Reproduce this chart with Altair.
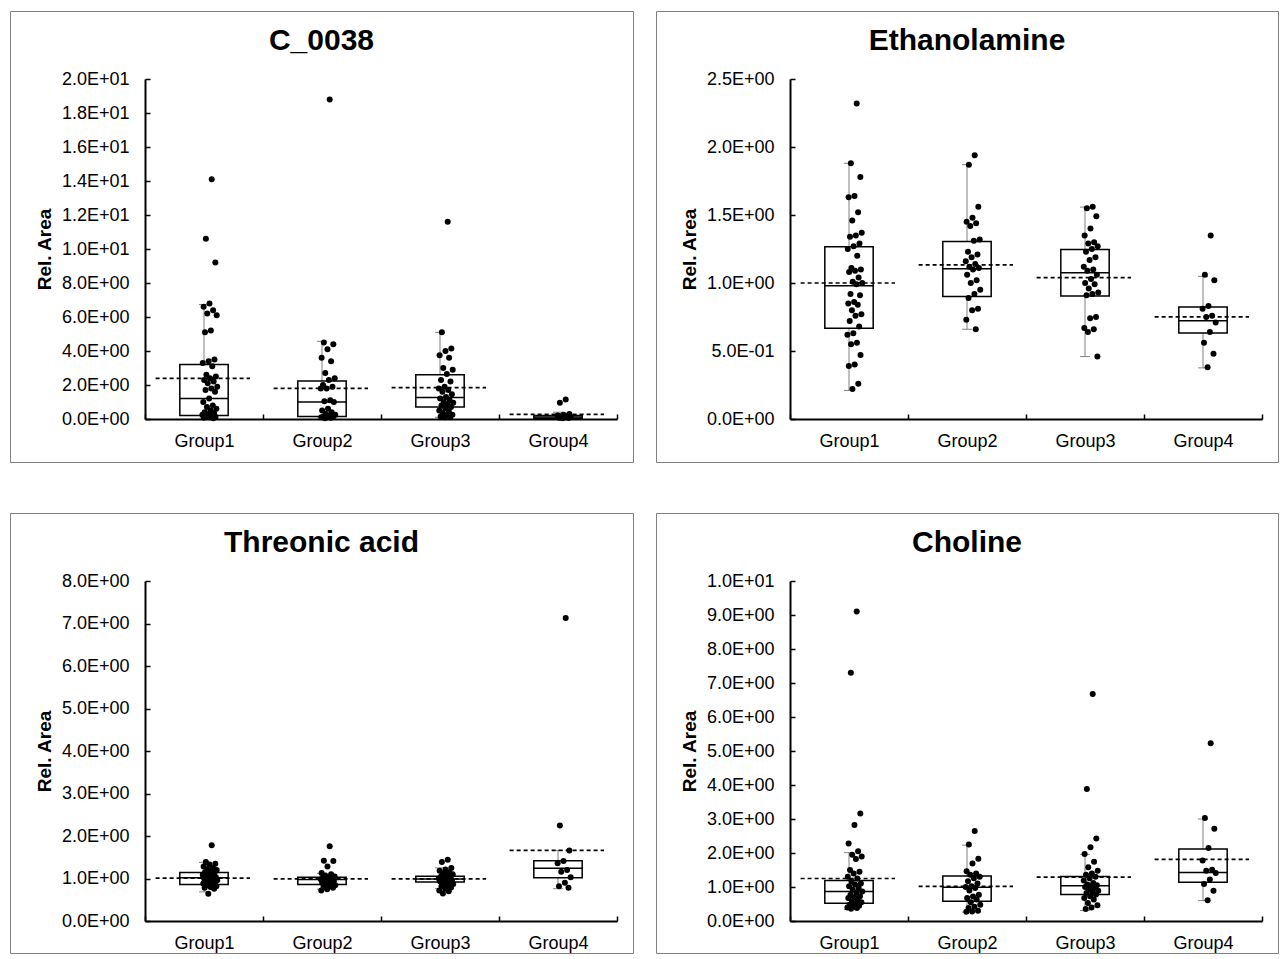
import altair as alt
import pandas as pd

GROUPS = ["Group1", "Group2", "Group3", "Group4"]

# ---------------- C_0038 ----------------
C0038_G1 = [14.1, 10.6, 9.2, 6.8, 6.6, 6.4, 6.2, 6.1, 5.2, 5.1, 3.5, 3.4, 3.3, 3.1, 2.6, 2.5, 2.4, 2.3,
            2.2, 2.1, 1.9, 1.8, 1.7, 1.6, 1.2, 1.0, 0.8, 0.7, 0.6, 0.5, 0.4, 0.35, 0.3, 0.25, 0.2, 0.15,
            0.12, 0.1, 0.08, 0.05]
C0038_G2 = [18.8, 4.5, 4.4, 4.1, 3.6, 3.4, 2.7, 2.4, 2.3, 2.0, 1.9, 1.8, 1.8, 1.1, 1.05, 1.0, 0.6, 0.5,
            0.4, 0.3, 0.25, 0.2, 0.15, 0.12, 0.1, 0.1, 0.08, 0.05]
C0038_G3 = [11.6, 5.1, 4.15, 4.0, 3.75, 3.6, 3.0, 2.9, 2.65, 2.3, 2.2, 1.9, 1.8, 1.7, 1.6, 1.45, 1.3, 1.2,
            1.1, 1.0, 0.95, 0.85, 0.8, 0.7, 0.65, 0.5, 0.45, 0.35, 0.25, 0.2, 0.15, 0.1, 0.1]
C0038_G4 = [1.15, 0.95, 0.3, 0.25, 0.2, 0.18, 0.15, 0.12, 0.1, 0.08, 0.06, 0.05]
C0038_Q1 = [0.2, 0.14, 0.7, 0.05]
C0038_MED = [1.2, 1.0, 1.27, 0.12]
C0038_Q3 = [3.2, 2.24, 2.6, 0.2]
C0038_LO = [0.05, 0.05, 0.1, 0.05]
C0038_HI = [6.73, 4.57, 5.1, 0.4]
C0038_MEAN = [2.39, 1.8, 1.84, 0.27]
C0038_TICKS = [0, 2, 4, 6, 8, 10, 12, 14, 16, 18, 20]

# ---------------- Ethanolamine ----------------
ETH_G1 = [2.32, 1.88, 1.78, 1.64, 1.63, 1.52, 1.46, 1.37, 1.35, 1.34, 1.29, 1.27, 1.25, 1.2, 1.11, 1.10,
          1.09, 1.08, 1.04, 1.01, 1.0, 0.99, 0.92, 0.91, 0.86, 0.85, 0.84, 0.80, 0.77, 0.76, 0.72, 0.68,
          0.63, 0.62, 0.56, 0.55, 0.47, 0.40, 0.39, 0.26, 0.22]
ETH_G2 = [1.94, 1.87, 1.56, 1.48, 1.45, 1.44, 1.42, 1.32, 1.31, 1.23, 1.21, 1.19, 1.16, 1.14, 1.12, 1.11,
          1.10, 1.06, 1.02, 1.0, 0.95, 0.92, 0.89, 0.81, 0.80, 0.73, 0.66]
ETH_G3 = [1.56, 1.55, 1.49, 1.40, 1.35, 1.30, 1.29, 1.27, 1.25, 1.23, 1.19, 1.17, 1.12, 1.10, 1.09, 1.06,
          1.03, 1.0, 0.99, 0.96, 0.93, 0.92, 0.91, 0.75, 0.74, 0.67, 0.66, 0.64, 0.46]
ETH_G4 = [1.35, 1.06, 1.02, 0.83, 0.81, 0.76, 0.75, 0.71, 0.64, 0.56, 0.48, 0.38]
ETH_Q1 = [0.668, 0.90, 0.905, 0.632]
ETH_MED = [0.98, 1.105, 1.076, 0.722]
ETH_Q3 = [1.266, 1.305, 1.246, 0.824]
ETH_LO = [0.21, 0.66, 0.459, 0.376]
ETH_HI = [1.88, 1.87, 1.558, 1.049]
ETH_MEAN = [1.0, 1.134, 1.039, 0.751]
ETH_TICKS = [0, 0.5, 1.0, 1.5, 2.0, 2.5]

# ---------------- Threonic acid ----------------
THR_G1 = [1.78, 1.39, 1.35, 1.33, 1.28, 1.25, 1.22, 1.2, 1.18, 1.15, 1.13, 1.1, 1.08, 1.06, 1.05, 1.03,
          1.02, 1.0, 0.99, 0.98, 0.96, 0.95, 0.93, 0.92, 0.9, 0.88, 0.86, 0.84, 0.82, 0.8, 0.78, 0.76, 0.64]
THR_G2 = [1.76, 1.42, 1.41, 1.28, 1.13, 1.1, 1.07, 1.05, 1.03, 1.02, 1.0, 0.99, 0.98, 0.97, 0.96, 0.94,
          0.92, 0.9, 0.88, 0.86, 0.84, 0.82, 0.8, 0.78, 0.75, 0.72]
THR_G3 = [1.44, 1.39, 1.25, 1.21, 1.18, 1.15, 1.12, 1.1, 1.07, 1.05, 1.03, 1.02, 1.0, 0.99, 0.98, 0.96,
          0.95, 0.93, 0.91, 0.89, 0.87, 0.85, 0.82, 0.79, 0.76, 0.72, 0.7, 0.65]
THR_G4 = [7.13, 2.25, 1.66, 1.41, 1.36, 1.2, 1.16, 1.03, 0.9, 0.82, 0.78]
THR_Q1 = [0.86, 0.86, 0.92, 1.016]
THR_MED = [1.016, 0.976, 0.99, 1.24]
THR_Q3 = [1.14, 1.03, 1.055, 1.42]
THR_LO = [0.685, 0.75, 0.76, 0.76]
THR_HI = [1.38, 1.12, 1.25, 1.66]
THR_MEAN = [1.01, 0.99, 0.99, 1.66]
THR_TICKS = [0, 1, 2, 3, 4, 5, 6, 7, 8]

# ---------------- Choline ----------------
CHO_G1 = [9.1, 7.3, 3.16, 2.82, 2.28, 2.05, 1.95, 1.9, 1.82, 1.5, 1.45, 1.4, 1.3, 1.25, 1.17, 1.1, 1.07,
          1.02, 0.97, 0.92, 0.87, 0.83, 0.77, 0.73, 0.7, 0.68, 0.62, 0.58, 0.55, 0.5, 0.48, 0.45, 0.42,
          0.4, 0.38, 0.36]
CHO_G2 = [2.65, 2.25, 1.83, 1.69, 1.46, 1.4, 1.36, 1.3, 1.26, 1.17, 1.1, 1.02, 1.0, 0.97, 0.9, 0.77,
          0.72, 0.68, 0.63, 0.55, 0.48, 0.42, 0.38, 0.3, 0.28, 0.27]
CHO_G3 = [6.68, 3.88, 2.43, 2.17, 1.97, 1.74, 1.58, 1.48, 1.4, 1.36, 1.3, 1.26, 1.19, 1.12, 1.07, 1.05,
          1.02, 1.0, 0.97, 0.93, 0.89, 0.85, 0.82, 0.78, 0.73, 0.68, 0.63, 0.53, 0.46, 0.4, 0.35]
CHO_G4 = [5.23, 3.03, 2.71, 2.15, 1.78, 1.51, 1.48, 1.41, 1.22, 1.09, 0.89, 0.61]
CHO_Q1 = [0.52, 0.58, 0.78, 1.14]
CHO_MED = [0.87, 0.99, 1.04, 1.43]
CHO_Q3 = [1.19, 1.32, 1.31, 2.12]
CHO_LO = [0.34, 0.26, 0.31, 0.6]
CHO_HI = [2.01, 2.23, 1.96, 3.0]
CHO_MEAN = [1.25, 1.02, 1.29, 1.81]
CHO_TICKS = [0, 1, 2, 3, 4, 5, 6, 7, 8, 9, 10]

FONT = "Liberation Sans"
Y_TOP, Y_BOT = 68, 408

E = "floor(log(abs(datum.value)) / LN10 + 1e-9)"
SCI = (f"datum.value == 0 ? '0.0E+00' : format(datum.value / pow(10, {E}), '.1f') + 'E' + "
       f"({E} < 0 ? '-' : '+') + (abs({E}) < 10 ? '0' : '') + abs({E})")
GROUP_EXPR = "[" + ",".join(f"'{g}'" for g in GROUPS) + "][floor(datum.value)]"


def panel(title, pts, q1, med, q3, lo, hi, mean, ticks, width, height, x0):
    rows = []
    for gi, vals in enumerate(pts):
        for v in vals:
            rows.append({"group": GROUPS[gi], "gi": gi, "value": v})
    pdf = pd.DataFrame(rows)
    sdf = pd.DataFrame({"group": GROUPS, "gi": list(range(len(GROUPS))), "q1": q1, "med": med,
                        "q3": q3, "lo": lo, "hi": hi, "mean": mean})

    xs = alt.Scale(domain=[0, 4], range=[x0, x0 + 472], nice=False, zero=False)
    ys = alt.Scale(domain=[0, ticks[-1]], range=[Y_BOT, Y_TOP], nice=False, zero=False)

    x_main = alt.Axis(orient="bottom", offset=Y_BOT - height, values=[0.5, 1.5, 2.5, 3.5],
                      labelExpr=GROUP_EXPR, ticks=False, tickSize=0, domain=True, domainColor="black",
                      domainWidth=2, grid=False, labelFont=FONT, labelFontSize=18, labelColor="black",
                      labelPadding=13, labelFlush=False, labelOverlap=False, title=None)
    x_ticks = alt.Axis(orient="top", offset=-Y_BOT, values=[0, 1, 2, 3, 4], labels=False, ticks=True,
                       tickSize=5, tickColor="black", tickWidth=1.5, domain=False, grid=False, title=None)
    y_main = alt.Axis(orient="left", offset=-x0, values=ticks, labelExpr=SCI, ticks=False, tickSize=0,
                      domain=True, domainColor="black", domainWidth=2, grid=False, labelFont=FONT,
                      labelFontSize=18, labelColor="black", labelPadding=16, labelFlush=False,
                      labelOverlap=False, title="Rel. Area", titleFont=FONT, titleFontSize=19,
                      titleFontWeight="bold", titleColor="black", titlePadding=7)
    y_ticks = alt.Axis(orient="right", offset=x0 - width, values=ticks, labels=False, ticks=True,
                       tickSize=5, tickColor="black", tickWidth=1.5, domain=False, grid=False, title=None)

    stats = alt.Chart(sdf).transform_calculate(
        xc="datum.gi + 0.5", xl="datum.gi + 0.295", xr="datum.gi + 0.705",
        ml="datum.gi + 0.09", mr="datum.gi + 0.89", cl="datum.gi + 0.458", cr="datum.gi + 0.542")

    whisker = stats.mark_rule(color="#808080", strokeWidth=1).encode(
        x=alt.X("xc:Q", scale=xs, axis=None),
        y=alt.Y("lo:Q", scale=ys, axis=None), y2="hi:Q")
    cap_hi = stats.mark_rule(color="#808080", strokeWidth=1).encode(
        x=alt.X("cl:Q", scale=xs, axis=None), x2="cr:Q",
        y=alt.Y("hi:Q", scale=ys, axis=None))
    cap_lo = stats.mark_rule(color="#808080", strokeWidth=1).encode(
        x=alt.X("cl:Q", scale=xs, axis=None), x2="cr:Q",
        y=alt.Y("lo:Q", scale=ys, axis=None))
    box = stats.mark_bar(fill="white", stroke="black", strokeWidth=1.5).encode(
        x=alt.X("xl:Q", scale=xs, axis=x_main), x2="xr:Q",
        y=alt.Y("q1:Q", scale=ys, axis=y_main), y2="q3:Q")
    median = stats.mark_rule(color="black", strokeWidth=1.5).encode(
        x=alt.X("xl:Q", scale=xs, axis=x_ticks), x2="xr:Q",
        y=alt.Y("med:Q", scale=ys, axis=y_ticks))
    mean_line = stats.mark_rule(color="black", strokeWidth=1.7, strokeDash=[4, 3]).encode(
        x=alt.X("ml:Q", scale=xs, axis=None), x2="mr:Q",
        y=alt.Y("mean:Q", scale=ys, axis=None))
    points = alt.Chart(pdf).transform_window(
        idx="row_number()", groupby=["group"]
    ).transform_calculate(
        xj="datum.gi + 0.485 + ((datum.idx * 0.618034) % 1) * 0.13"
    ).mark_circle(color="black", opacity=1, size=36).encode(
        x=alt.X("xj:Q", scale=xs, axis=None),
        y=alt.Y("value:Q", scale=ys, axis=None))

    return alt.layer(whisker, cap_hi, cap_lo, box, median, mean_line, points).resolve_axis(
        x="independent", y="independent"
    ).properties(
        width=width, height=height,
        title=alt.TitleParams(title, font=FONT, fontSize=30, fontWeight="bold", color="black",
                              anchor="middle", offset=-45),
    )


tl = panel("C_0038", [C0038_G1, C0038_G2, C0038_G3, C0038_G4], C0038_Q1, C0038_MED, C0038_Q3,
           C0038_LO, C0038_HI, C0038_MEAN, C0038_TICKS, 623, 451, 135)
tr = panel("Ethanolamine", [ETH_G1, ETH_G2, ETH_G3, ETH_G4], ETH_Q1, ETH_MED, ETH_Q3,
           ETH_LO, ETH_HI, ETH_MEAN, ETH_TICKS, 622, 451, 134)
bl = panel("Threonic acid", [THR_G1, THR_G2, THR_G3, THR_G4], THR_Q1, THR_MED, THR_Q3,
           THR_LO, THR_HI, THR_MEAN, THR_TICKS, 623, 440, 135)
br = panel("Choline", [CHO_G1, CHO_G2, CHO_G3, CHO_G4], CHO_Q1, CHO_MED, CHO_Q3,
           CHO_LO, CHO_HI, CHO_MEAN, CHO_TICKS, 622, 440, 134)

chart = alt.vconcat(
    alt.hconcat(tl, tr, spacing=21),
    alt.hconcat(bl, br, spacing=21),
    spacing=49,
).properties(
    padding={"left": 9, "top": 10, "right": 2, "bottom": 0},
    background="white",
).configure_view(
    stroke="#808080", strokeWidth=1
)

chart.save("out.html", embed_options={"renderer": "svg", "actions": False})
